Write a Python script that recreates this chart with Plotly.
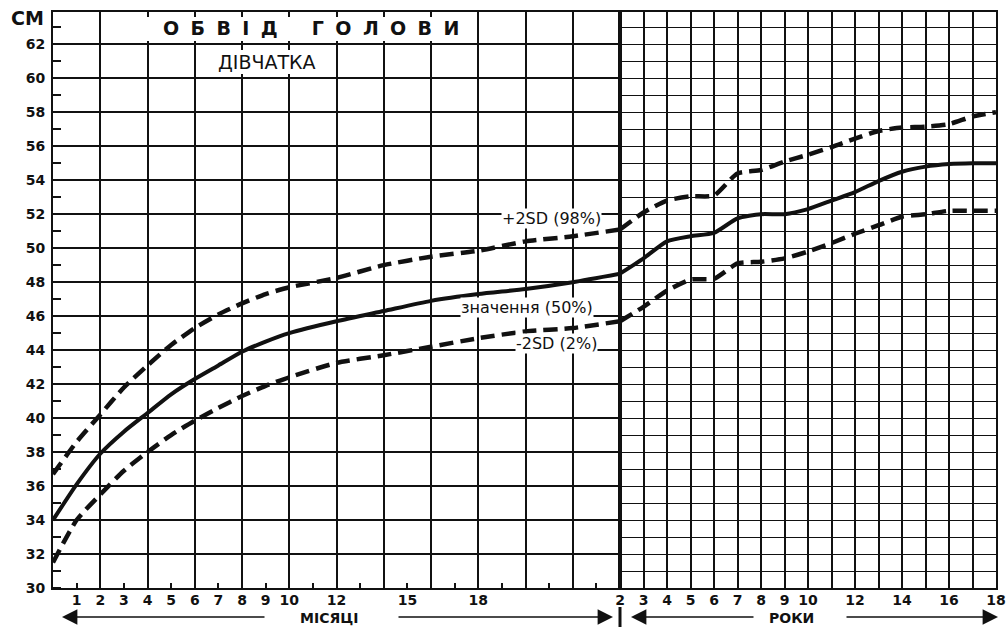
import plotly.graph_objects as go

# ---------------- data ----------------
months = [0, 1, 2, 3, 4, 5, 6, 7, 8, 9, 10, 12, 14, 16, 18, 20, 22, 24]
m_upper = [36.7, 38.6, 40.2, 41.8, 43.1, 44.3, 45.3, 46.1, 46.75, 47.3, 47.7, 48.25, 49.0, 49.5, 49.85, 50.4, 50.7, 51.1]
m_median = [34.0, 36.1, 37.9, 39.2, 40.3, 41.4, 42.3, 43.1, 43.9, 44.5, 45.0, 45.7, 46.3, 46.9, 47.3, 47.6, 48.0, 48.5]
m_lower = [31.5, 34.0, 35.5, 36.9, 38.0, 39.0, 39.85, 40.6, 41.3, 41.9, 42.4, 43.25, 43.7, 44.2, 44.7, 45.1, 45.3, 45.7]

years = [2, 3, 4, 5, 6, 7, 8, 9, 10, 11, 12, 13, 14, 15, 16, 17, 18]
y_upper = [51.1, 52.1, 52.8, 53.05, 53.1, 54.4, 54.6, 55.1, 55.5, 55.95, 56.45, 56.9, 57.1, 57.15, 57.3, 57.75, 58.0]
y_median = [48.5, 49.4, 50.4, 50.7, 50.9, 51.75, 52.0, 52.0, 52.3, 52.8, 53.3, 53.95, 54.5, 54.8, 54.95, 55.0, 55.0]
y_lower = [45.7, 46.55, 47.5, 48.15, 48.2, 49.1, 49.2, 49.4, 49.8, 50.3, 50.85, 51.35, 51.85, 52.0, 52.2, 52.2, 52.2]

month_tick_vals = [1, 2, 3, 4, 5, 6, 7, 8, 9, 10, 12, 15, 18]
month_tick_text = [str(v) for v in month_tick_vals]
year_tick_vals = [2, 3, 4, 5, 6, 7, 8, 9, 10, 12, 14, 16, 18]
year_tick_text = [str(v) for v in year_tick_vals]
cm_tick_vals = list(range(30, 63, 2))
cm_tick_text = [str(v) for v in cm_tick_vals]

title_text = "О Б В І Д   Г О Л О В И"
subtitle_text = "ДІВЧАТКА"
label_upper = "+2SD (98%)"
label_median = "значення (50%)"
label_lower = "-2SD (2%)"

# ---------------- layout geometry ----------------
W, H = 1007, 627
ML, MR, MT, MB = 53, 11, 12, 39
PW = W - ML - MR
PH = H - MT - MB
D_SPLIT = (620 - ML) / PW


def px_x(p):
    return (p - ML) / PW


def px_y(p):
    return (H - MB - p) / PH


INK = "#111111"
DASH = "14px,7px"

fig = go.Figure()


def add_curve(x, y, xa, ya, dashed):
    fig.add_trace(go.Scatter(
        x=x, y=y, xaxis=xa, yaxis=ya, mode="lines",
        line=dict(color=INK, width=4.5 if dashed else 4,
                  dash=DASH if dashed else "solid",
                  shape="spline", smoothing=0.6),
        showlegend=False, hoverinfo="skip"))


# grid axes (x, x2) carry the dashed curves, label axes (x3, x4) the medians
add_curve(months, m_upper, "x", "y", True)
add_curve(months, m_median, "x3", "y", False)
add_curve(months, m_lower, "x", "y", True)
add_curve(years, y_upper, "x2", "y2", True)
add_curve(years, y_median, "x4", "y2", False)
add_curve(years, y_lower, "x2", "y2", True)

tickfont = dict(family="DejaVu Sans", size=14, color=INK, weight="bold")

fig.update_layout(
    width=W, height=H, autosize=False,
    margin=dict(l=ML, r=MR, t=MT, b=MB, pad=0, autoexpand=False),
    paper_bgcolor="white", plot_bgcolor="white",
    hovermode=False,
    xaxis=dict(domain=[0, D_SPLIT], range=[0, 24], anchor="y",
               tickmode="linear", tick0=0, dtick=2, showticklabels=False,
               ticks="", showgrid=True, gridcolor=INK, gridwidth=1.5,
               minor=dict(dtick=1, tick0=0, ticks="inside", ticklen=5,
                          tickwidth=1.5, tickcolor=INK, showgrid=False),
               showline=True, linecolor=INK, linewidth=2, mirror=True,
               zeroline=False, fixedrange=True),
    xaxis3=dict(overlaying="x", range=[0, 24], anchor="y", side="bottom",
                tickmode="array", tickvals=month_tick_vals, ticktext=month_tick_text,
                ticks="", showgrid=False, showline=False, zeroline=False,
                tickfont=tickfont, ticklabelstandoff=2, fixedrange=True),
    xaxis2=dict(domain=[D_SPLIT, 1], range=[2, 18], anchor="y2",
                tickmode="linear", tick0=2, dtick=1, showticklabels=False,
                ticks="", showgrid=True, gridcolor=INK, gridwidth=1.5,
                showline=True, linecolor=INK, linewidth=2, mirror=True,
                zeroline=False, fixedrange=True),
    xaxis4=dict(overlaying="x2", range=[2, 18], anchor="y2", side="bottom",
                tickmode="array", tickvals=year_tick_vals, ticktext=year_tick_text,
                ticks="", showgrid=False, showline=False, zeroline=False,
                tickfont=tickfont, ticklabelstandoff=2, fixedrange=True),
    yaxis=dict(domain=[0, 1], range=[30, 63.9], anchor="x",
               tickmode="array", tickvals=cm_tick_vals, ticktext=cm_tick_text,
               ticks="", showgrid=True, gridcolor=INK, gridwidth=1.5,
               minor=dict(dtick=1, tick0=30, ticks="inside", ticklen=8,
                          tickwidth=1.5, tickcolor=INK, showgrid=False),
               showline=True, linecolor=INK, linewidth=2, mirror=True,
               zeroline=False, tickfont=tickfont, ticklabelstandoff=3,
               fixedrange=True),
    yaxis2=dict(domain=[0, 1], range=[30, 63.9], anchor="x2", matches="y",
                tickmode="linear", tick0=30, dtick=1, showticklabels=False,
                ticks="", showgrid=True, gridcolor=INK, gridwidth=1.3,
                showline=True, linecolor=INK, linewidth=2, mirror=True,
                zeroline=False, fixedrange=True),
)

# white boxes behind title texts
fig.add_shape(type="rect", xref="paper", yref="paper",
              x0=px_x(128), x1=px_x(472), y0=px_y(41), y1=px_y(17),
              fillcolor="white", line=dict(width=0), layer="above")
fig.add_shape(type="rect", xref="paper", yref="paper",
              x0=px_x(204), x1=px_x(332), y0=px_y(74), y1=px_y(50),
              fillcolor="white", line=dict(width=0), layer="above")

# thick 2-year divider and mark below axis
fig.add_shape(type="line", xref="paper", yref="paper",
              x0=D_SPLIT, x1=D_SPLIT, y0=0, y1=1,
              line=dict(color=INK, width=3.5), layer="above")
fig.add_shape(type="line", xref="paper", yref="paper",
              x0=D_SPLIT, x1=D_SPLIT, y0=px_y(607), y1=px_y(627),
              line=dict(color=INK, width=3))

# texts
fig.add_annotation(xref="paper", yref="paper", x=px_x(311), y=px_y(28),
                   text="<b>" + title_text.replace(" ", "\u2002\u200a") + "</b>",
                   showarrow=False, xanchor="center", yanchor="middle",
                   font=dict(family="DejaVu Sans", size=19, color=INK))
fig.add_annotation(xref="paper", yref="paper", x=px_x(267), y=px_y(62),
                   text=subtitle_text, showarrow=False,
                   xanchor="center", yanchor="middle",
                   font=dict(family="DejaVu Sans", size=19, color=INK))
fig.add_annotation(xref="paper", yref="paper", x=px_x(27), y=px_y(18),
                   text="<b>СМ</b>", showarrow=False,
                   xanchor="center", yanchor="middle",
                   font=dict(family="DejaVu Sans", size=19, color=INK))

lab_font = dict(family="DejaVu Sans", size=16, color=INK)
fig.add_annotation(xref="x", yref="y", x=21.1, y=51.76, text=label_upper,
                   showarrow=False, bgcolor="white", borderpad=0,
                   xanchor="center", yanchor="middle", font=lab_font)
fig.add_annotation(xref="x", yref="y", x=20.05, y=46.5, text=label_median,
                   showarrow=False, bgcolor="white", borderpad=0,
                   xanchor="center", yanchor="middle", font=lab_font)
fig.add_annotation(xref="x", yref="y", x=21.3, y=44.4, text=label_lower,
                   showarrow=False, bgcolor="white", borderpad=0,
                   xanchor="center", yanchor="middle", font=lab_font)

bottom_font = dict(family="DejaVu Sans", size=14, color=INK)
fig.add_annotation(xref="paper", yref="paper", x=px_x(329), y=px_y(618),
                   text="<b>МІСЯЦІ</b>", showarrow=False,
                   xanchor="center", yanchor="middle", font=bottom_font)
fig.add_annotation(xref="paper", yref="paper", x=px_x(791), y=px_y(618),
                   text="<b>РОКИ</b>", showarrow=False,
                   xanchor="center", yanchor="middle", font=bottom_font)


def arrow(tip_px, tail_px, ypx):
    fig.add_annotation(xref="paper", yref="paper", x=px_x(tip_px), y=px_y(ypx),
                       ax=tail_px - tip_px, ay=0, text="", showarrow=True,
                       arrowhead=2, arrowsize=2.2, arrowwidth=1.4,
                       arrowcolor=INK, standoff=0, startstandoff=0)


arrow(62, 266, 617)
arrow(613, 397, 617)
arrow(631, 755, 617)
arrow(998, 845, 617)

fig.write_html("out.html",
               config={"displayModeBar": False, "responsive": False},
               post_script="document.body.style.margin='0px';"
                           "document.body.style.overflow='hidden';")
